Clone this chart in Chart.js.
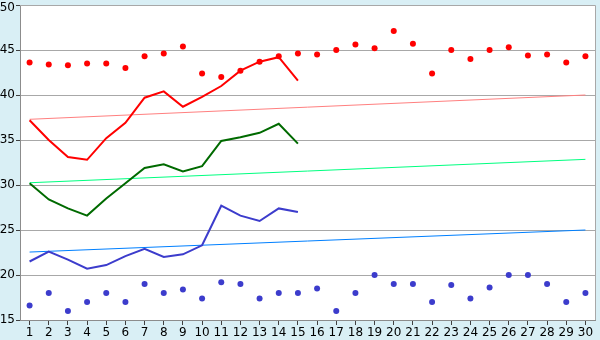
<!DOCTYPE html>
<html>
<head>
<meta charset="utf-8">
<script src="https://cdn.jsdelivr.net/npm/chart.js@4/dist/chart.umd.min.js"></script>
<style>
html,body{margin:0;padding:0;background:#d9eff5;}
canvas{display:block;}
</style>
</head>
<body>
<canvas id="c" width="600" height="340"></canvas>
<script>
const categories = ['1','2','3','4','5','6','7','8','9','10','11','12','13','14','15','16','17','18','19','20','21','22','23','24','25','26','27','28','29','30'];
const yTicks = [15,20,25,30,35,40,45,50];
const redPoints = [43.6,43.4,43.3,43.5,43.5,43.0,44.3,44.6,45.4,42.4,42.0,42.7,43.7,44.3,44.6,44.5,45.0,45.6,45.2,47.1,45.7,42.4,45.0,44.0,45.0,45.3,44.4,44.5,43.6,44.3];
const redLine = [37.2,35.0,33.1,32.8,35.2,36.9,39.7,40.4,38.7,39.8,41.0,42.7,43.7,44.2,41.6];
const greenLine = [30.2,28.4,27.4,26.6,28.5,30.2,31.9,32.3,31.5,32.1,34.9,35.3,35.8,36.8,34.6];
const blueLine = [21.5,22.6,21.7,20.7,21.1,22.1,22.9,22.0,22.3,23.3,27.7,26.6,26.0,27.4,27.0];
const bluePoints = [16.6,18.0,16.0,17.0,18.0,17.0,19.0,18.0,18.4,17.4,19.2,19.0,17.4,18.0,18.0,18.5,16.0,18.0,20.0,19.0,19.0,17.0,18.9,17.4,18.6,20.0,20.0,19.0,17.0,18.0];
const redTrend = [37.3, 40.0];
const greenTrend = [30.25, 32.85];
const blueTrend = [22.55, 25.0];
const topTick = yTicks[yTicks.length-1];

function ends(a){ return categories.map((c,i)=> i===0 ? a[0] : (i===categories.length-1 ? a[1] : null)); }

const bgPlugin = {
  id:'bg',
  beforeDraw(chart){
    const {ctx, chartArea:a} = chart;
    ctx.save();
    ctx.fillStyle = '#d9eff5';
    ctx.fillRect(0,0,chart.width,chart.height);
    ctx.fillStyle = '#ffffff';
    ctx.fillRect(a.left,a.top,a.right-a.left,a.bottom-a.top);
    ctx.restore();
  },
  afterDraw(chart){
    const {ctx, chartArea:a} = chart;
    const ys = chart.scales.y;
    ctx.save();
    ctx.strokeStyle = '#a8a8a8';
    ctx.lineWidth = 1;
    ctx.beginPath();
    ctx.moveTo(a.left, a.top+0.5);
    ctx.lineTo(a.right+0.5, a.top+0.5);
    ctx.lineTo(a.right+0.5, a.bottom);
    ctx.stroke();
    // top tick label, nudged down so it stays inside the canvas
    ctx.fillStyle = '#000';
    ctx.font = '12px "DejaVu Sans"';
    ctx.textAlign = 'right';
    ctx.textBaseline = 'middle';
    ctx.fillText(String(topTick), a.left - 5, Math.max(ys.getPixelForValue(topTick), 7.5));
    ctx.restore();
  }
};

const lineDs = (data,color,w)=>({data, borderColor:color, backgroundColor:color, borderWidth:w, pointRadius:0, fill:false, tension:0});
const ptDs = (data,color)=>({data, borderColor:color, backgroundColor:color, showLine:false, pointRadius:3, pointStyle:'circle', borderWidth:0});

new Chart(document.getElementById('c'), {
  type:'line',
  data:{
    labels: categories,
    datasets:[
      ptDs(redPoints,'#ff0000'),
      lineDs(redLine,'#ff0000',2),
      lineDs(greenLine,'#006a00',2),
      lineDs(blueLine,'#3c3ccc',2),
      ptDs(bluePoints,'#3c3ccc'),
      Object.assign(lineDs(ends(redTrend),'#ff8080',1),{spanGaps:true}),
      Object.assign(lineDs(ends(greenTrend),'#00ff80',1),{spanGaps:true}),
      Object.assign(lineDs(ends(blueTrend),'#0080ff',1),{spanGaps:true})
    ]
  },
  options:{
    responsive:false,
    animation:false,
    layout:{padding:{top:5,right:5,left:0,bottom:0}},
    plugins:{legend:{display:false}, tooltip:{enabled:false}},
    scales:{
      x:{
        type:'category',
        offset:true,
        grid:{offset:false, drawOnChartArea:false, drawTicks:true, tickLength:5, tickColor:'#404040'},
        border:{color:'#8c8c8c'},
        ticks:{color:'#000', font:{family:'DejaVu Sans', size:12}, padding:1, maxRotation:0, autoSkip:false},
        afterFit(s){ s.height = 20; s.paddingLeft = 0; s.paddingRight = 0; }
      },
      y:{
        min:15, max:50,
        afterBuildTicks(s){ s.ticks = yTicks.map(v=>({value:v})); },
        grid:{color:'#a8a8a8', tickColor:'#404040', tickLength:4, drawTicks:true},
        border:{color:'#8c8c8c'},
        ticks:{color:'#000', font:{family:'DejaVu Sans', size:12}, padding:1,
               callback:(v)=> v===topTick ? '' : String(v)},
        afterFit(s){ s.width = 20; s.paddingTop = 0; s.paddingBottom = 0; }
      }
    }
  },
  plugins:[bgPlugin]
});
</script>
</body>
</html>
